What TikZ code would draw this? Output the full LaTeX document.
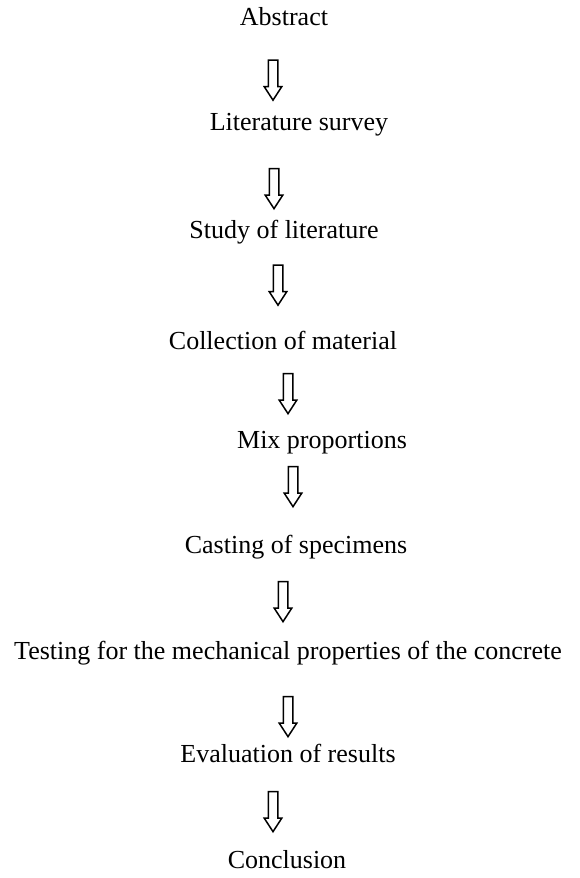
\documentclass[tikz,border=0pt]{standalone}
\usepackage{fontspec}
\setmainfont{Liberation Serif}
\usetikzlibrary{shapes.arrows}

\tikzset{
	stagetxt/.style={font=\fontsize{13}{15}\selectfont, inner sep=0pt},
	hollowarr/.style={single arrow, draw, line width=0.75pt, shape border rotate=270,
		minimum height=20pt, minimum width=8pt, inner sep=2pt,
		single arrow head extend=2pt, single arrow tip angle=66}
}

\begin{document}
\begin{tikzpicture}[x=0.5pt,y=-0.5pt]
		\useasboundingbox (0,0) rectangle (579,878);
		% stages
		\node[stagetxt] (abs) at (284,17) {Abstract};
		\node[stagetxt] (lit) at (299,125) {Literature survey};
		\node[stagetxt] (study) at (284,232) {Study of literature};
		\node[stagetxt] (coll) at (283,340) {Collection of material};
		\node[stagetxt] (mix) at (322,443) {Mix proportions};
		\node[stagetxt] (cast) at (296,547) {Casting of specimens};
		\node[stagetxt] (test) at (288,653) {Testing for the mechanical properties of the concrete};
		\node[stagetxt] (eval) at (288,753) {Evaluation of results};
		\node[stagetxt] (concl) at (287,860) {Conclusion};
		% arrows
		\foreach \x/\y [count=\i] in {273/76.5, 274/185, 278/281.5, 288/390, 293/483, 283/598, 288/713, 273/808}{
			\node[hollowarr] (a\i) at (\x,\y) {};
		}
	\end{tikzpicture}
\end{document}
